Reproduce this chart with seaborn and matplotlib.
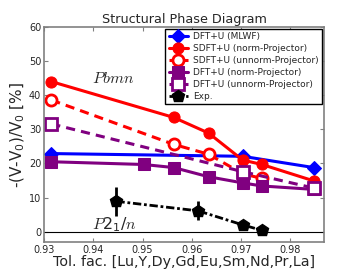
import numpy as np
import pandas as pd
import matplotlib
matplotlib.use("Agg")
import matplotlib.pyplot as plt
import seaborn as sns

# tolerance factors (x) and volume changes (y, %)
mlwf_x = [0.9315, 0.9703, 0.9847]
mlwf_y = [22.9, 22.1, 18.8]

sdft_norm_x = [0.9315, 0.9563, 0.9634, 0.9703, 0.9742, 0.9847]
sdft_norm_y = [44.0, 33.5, 28.9, 21.0, 19.7, 14.9]

sdft_unnorm_x = [0.9315, 0.9563, 0.9634, 0.9703, 0.9742]
sdft_unnorm_y = [38.6, 25.6, 22.7, 17.0, 15.6]

dft_norm_x = [0.9315, 0.9502, 0.9563, 0.9634, 0.9703, 0.9742, 0.9847]
dft_norm_y = [20.5, 19.7, 18.8, 16.1, 14.3, 13.4, 12.4]

dft_unnorm_x = [0.9315, 0.9703, 0.9847]
dft_unnorm_y = [31.6, 17.6, 12.8]

exp_x = [0.9447, 0.9613, 0.9703, 0.9742]
exp_y = [8.9, 6.1, 2.0, 0.4]
exp_err = [4.3, 2.8, 0.0, 0.0]

sns.set_style("ticks")
plt.rcParams['font.family'] = ['DejaVu Sans']
plt.rcParams['mathtext.fontset'] = 'dejavusans'
plt.rcParams['mathtext.default'] = 'regular'

fig = plt.figure(figsize=(3.6, 2.7), dpi=100)
ax = fig.add_axes([0.122, 0.104, 0.778, 0.796])

lw = 2.2
sns.lineplot(x=mlwf_x, y=mlwf_y, ax=ax, color='blue', marker='D', markersize=7,
             markeredgecolor='blue', lw=lw, label='DFT+U (MLWF)')
sns.lineplot(x=sdft_norm_x, y=sdft_norm_y, ax=ax, color='red', marker='o', markersize=8,
             markeredgecolor='red', lw=lw, label='SDFT+U (norm-Projector)')
sns.lineplot(x=sdft_unnorm_x, y=sdft_unnorm_y, ax=ax, color='red', marker='o', markersize=8,
             markerfacecolor='white', markeredgecolor='red', markeredgewidth=2, lw=lw,
             linestyle=(0, (3, 2)), label='SDFT+U (unnorm-Projector)')
sns.lineplot(x=dft_norm_x, y=dft_norm_y, ax=ax, color='purple', marker='s', markersize=8,
             markeredgecolor='purple', lw=lw, label='DFT+U (norm-Projector)')
sns.lineplot(x=dft_unnorm_x, y=dft_unnorm_y, ax=ax, color='purple', marker='s', markersize=8,
             markerfacecolor='white', markeredgecolor='purple', markeredgewidth=2, lw=lw,
             linestyle=(0, (3, 2)), label='DFT+U (unnorm-Projector)')
ax.errorbar(exp_x, exp_y, yerr=exp_err, color='black', marker='p', markersize=9,
            lw=2, linestyle=(0, (3, 1, 1, 1)), elinewidth=2, capsize=0, label='Exp.')
ax.axhline(0, color='black', lw=0.8)

ax.text(0.9398, 43.5, r'$\mathit{Pbmn}$', fontsize=11.5, math_fontfamily='cm')
ax.text(0.9398, 0.6, r'$\mathit{P}2_1/\mathit{n}$', fontsize=11.5, math_fontfamily='cm')

ax.set_xlim(0.93, 0.9868)
ax.set_ylim(-3, 60)
ax.set_xticks([0.93, 0.94, 0.95, 0.96, 0.97, 0.98])
ax.set_yticks([0, 10, 20, 30, 40, 50, 60])
ax.tick_params(direction='in', labelsize=7, length=3, color='gray', pad=2,
               top=True, right=True)
for s in ax.spines.values():
    s.set_color('gray')
    s.set_linewidth(1.2)
ax.set_title('Structural Phase Diagram', fontsize=9.2, pad=3)
ax.set_xlabel('Tol. fac. [Lu,Y,Dy,Gd,Eu,Sm,Nd,Pr,La]', fontsize=10.3, labelpad=0)
ax.set_ylabel(r'-(V-V$_0$)/V$_0$ [%]', fontsize=11, labelpad=1)
leg = ax.legend(loc='upper right', fontsize=6.5, frameon=True, fancybox=False,
                borderpad=0.35, labelspacing=0.33, handlelength=2.1, handletextpad=0.6,
                borderaxespad=0.25)
leg.get_frame().set_edgecolor('black')
leg.get_frame().set_linewidth(1.0)
leg.get_frame().set_alpha(1)

fig.savefig('out.png', dpi=100)
